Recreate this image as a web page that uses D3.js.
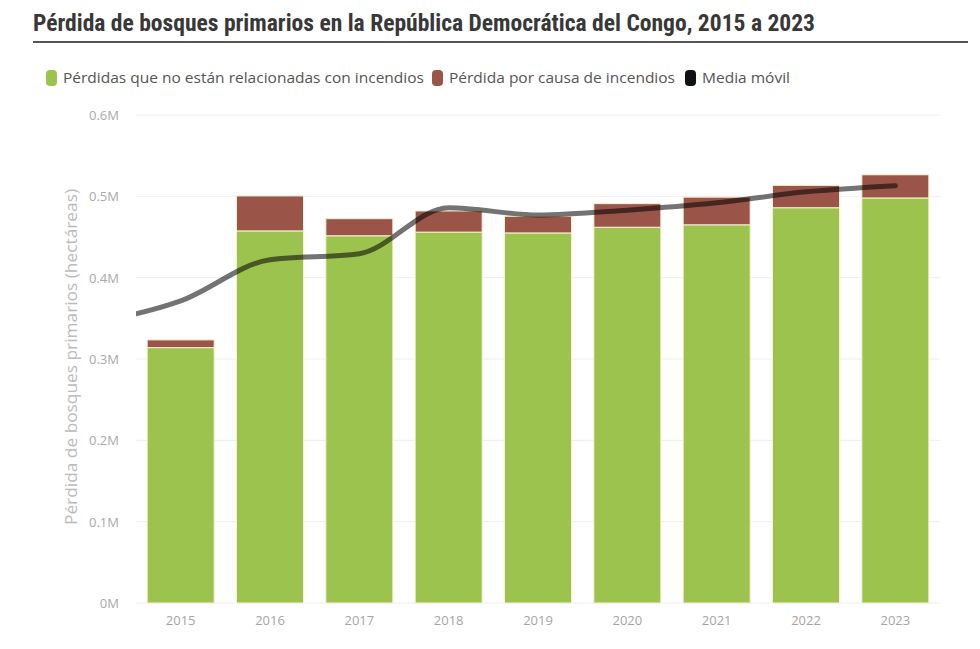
<!DOCTYPE html>
<html>
<head>
<meta charset="utf-8">
<script src="https://cdn.jsdelivr.net/npm/d3@7"></script>
<style>
  body { margin: 0; background: #fff; }
  svg { display: block; }
</style>
</head>
<body>
<script>
// data
const years = ['2015', '2016', '2017', '2018', '2019', '2020', '2021', '2022', '2023'];
const non_fire = [314000, 457500, 451500, 456000, 455000, 462000, 465000, 486000, 498000];
const fire = [9500, 43000, 21000, 26000, 20500, 29000, 34000, 27500, 28500];
// moving average, runs in from the left edge so 2014 is kept and clipped
const avg_years = ['2014', '2015', '2016', '2017', '2018', '2019', '2020', '2021', '2022', '2023'];
const avg_values = [344000, 371500, 422000, 429500, 486000, 477000, 483000, 492000, 505500, 513000];
const y_ticks = [0, 100000, 200000, 300000, 400000, 500000, 600000];

const W = 980, H = 649;
const m = { left: 136, right: 40, top: 115, bottom: 46 };

const green = '#9dc34f';
const brown = '#9b5548';

const svg = d3.select('body').append('svg').attr('width', W).attr('height', H);

// title
svg.append('text')
    .attr('x', 33).attr('y', 31)
    .attr('textLength', 782)
    .attr('lengthAdjust', 'spacingAndGlyphs')
    .style('font-family', '"Roboto Condensed", "Liberation Sans Narrow", "DejaVu Sans Condensed", sans-serif')
    .style('font-stretch', 'condensed')
    .style('font-size', '23px')
    .style('font-weight', 'bold')
    .style('fill', '#383838')
    .text('Pérdida de bosques primarios en la República Democrática del Congo, 2015 a 2023');

svg.append('line')
    .attr('x1', 33).attr('x2', 968)
    .attr('y1', 42).attr('y2', 42)
    .style('stroke', '#555').style('stroke-width', 2);

// legend
const legend_items = [
    { label: 'Pérdidas que no están relacionadas con incendios', color: green, x: 46, w: 361 },
    { label: 'Pérdida por causa de incendios', color: brown, x: 432, w: 226 },
    { label: 'Media móvil', color: '#111', x: 685, w: 88 }
];
const legend = svg.selectAll('.legend').data(legend_items).enter()
    .append('g').attr('class', 'legend')
    .attr('transform', (d) => `translate(${d.x},70)`);
legend.append('rect')
    .attr('width', 11).attr('height', 16).attr('rx', 4)
    .style('fill', (d) => d.color);
legend.append('text')
    .attr('x', 17).attr('y', 13)
    .attr('textLength', (d) => d.w)
    .attr('lengthAdjust', 'spacingAndGlyphs')
    .style('font-family', '"Open Sans", sans-serif')
    .style('font-size', '15px')
    .style('fill', '#555')
    .text((d) => d.label);

// scales
const x = d3.scaleBand().domain(years)
    .range([m.left, W - m.right])
    .paddingInner(0.25).paddingOuter(0.125);
const y = d3.scaleLinear().domain([0, 600000]).range([H - m.bottom, m.top]);

// grid
svg.append('g').selectAll('line').data(y_ticks).enter()
    .append('line')
    .attr('x1', m.left).attr('x2', W - m.right)
    .attr('y1', (d) => y(d)).attr('y2', (d) => y(d))
    .style('stroke', '#eee').style('stroke-width', 1);

// y axis
const y_axis = svg.append('g')
    .attr('transform', `translate(${m.left - 14},0)`)
    .call(d3.axisLeft(y).tickValues(y_ticks).tickSize(0)
        .tickFormat((d) => (d / 1e6) + 'M'));
y_axis.select('.domain').remove();
y_axis.selectAll('text')
    .attr('dy', '0.35em')
    .style('font-family', '"Open Sans", sans-serif')
    .style('font-size', '13px')
    .style('fill', '#aaa');

svg.append('text')
    .attr('transform', `translate(77,${y(300000) - 2}) rotate(-90)`)
    .attr('text-anchor', 'middle')
    .attr('textLength', 336)
    .attr('lengthAdjust', 'spacingAndGlyphs')
    .style('font-family', '"Open Sans", sans-serif')
    .style('font-size', '17px')
    .style('fill', '#bbb')
    .text('Pérdida de bosques primarios (hectáreas)');

// x axis
const x_axis = svg.append('g')
    .attr('transform', `translate(0,${H - m.bottom + 10})`)
    .call(d3.axisBottom(x).tickSize(0));
x_axis.select('.domain').remove();
x_axis.selectAll('text')
    .attr('dy', '0.71em')
    .style('font-family', '"Open Sans", sans-serif')
    .style('font-size', '13px')
    .style('fill', '#a5a5a5');

// stacked bars
const rows = years.map((yr, i) => ({ year: yr, non_fire: non_fire[i], fire: fire[i] }));
const stack = d3.stack().keys(['non_fire', 'fire'])(rows);
const colors = { non_fire: green, fire: brown };

svg.append('g').selectAll('g').data(stack).enter()
    .append('g')
    .style('fill', (d) => colors[d.key])
    .selectAll('rect').data((d) => d).enter()
    .append('rect')
        .attr('x', (d) => x(d.data.year))
        .attr('width', x.bandwidth())
        .attr('y', (d) => y(d[1]))
        .attr('height', (d) => y(d[0]) - y(d[1]))
        .style('stroke', '#f6f1d6')
        .style('stroke-width', 1);

// moving average line
svg.append('clipPath').attr('id', 'plot-clip')
    .append('rect')
    .attr('x', m.left).attr('y', 0)
    .attr('width', W - m.left - m.right).attr('height', H);

const line = d3.line()
    .x((d, i) => x(avg_years[i]) === undefined
        ? x(years[0]) + x.bandwidth() / 2 - x.step()
        : x(avg_years[i]) + x.bandwidth() / 2)
    .y((d) => y(d))
    .curve(d3.curveMonotoneX);

svg.append('path')
    .datum(avg_values)
    .attr('clip-path', 'url(#plot-clip)')
    .attr('d', line)
    .style('fill', 'none')
    .style('stroke', '#000')
    .style('stroke-opacity', 0.55)
    .style('stroke-width', 5)
    .style('stroke-linecap', 'round');
</script>
</body>
</html>
